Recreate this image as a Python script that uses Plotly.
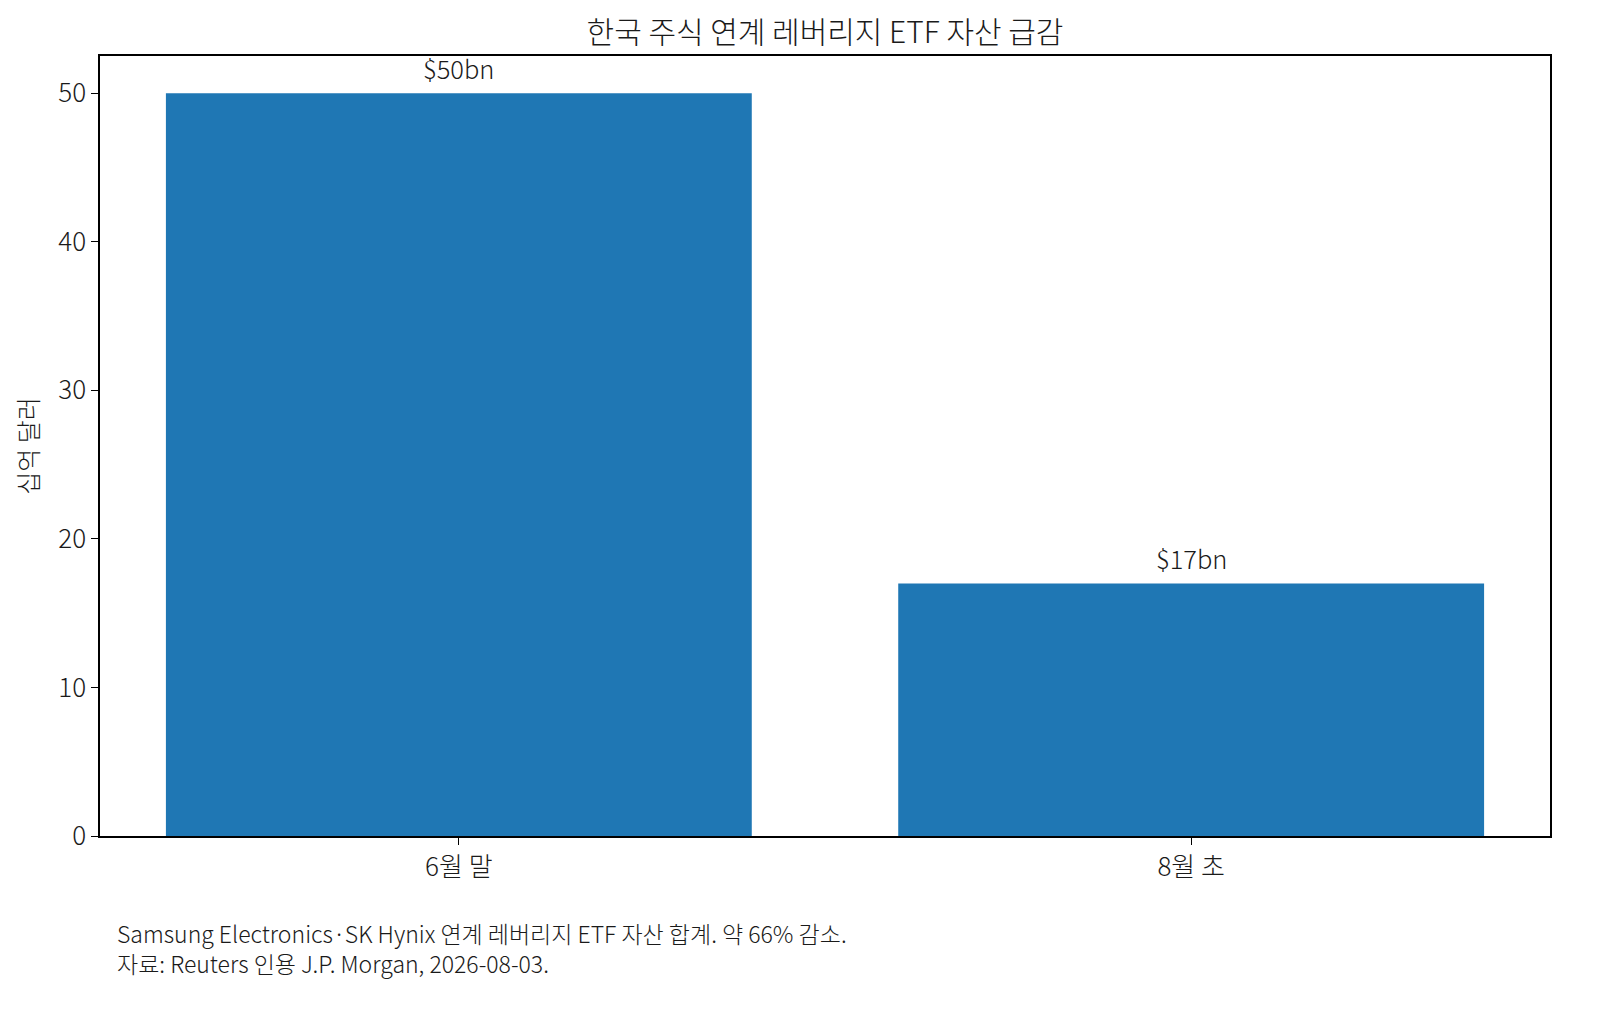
import plotly.graph_objects as go

# data
periods = ["6월 말", "8월 초"]
assets_bn = [50, 17]
bar_labels = ["$50bn", "$17bn"]

title_text = "한국 주식 연계 레버리지 ETF 자산 급감"
y_title = "십억 달러"
note_lines = [
    "Samsung Electronics·SK Hynix 연계 레버리지 ETF 자산 합계. 약 66% 감소.",
    "자료: Reuters 인용 J.P. Morgan, 2026-08-03.",
]

font_family = "Noto Sans CJK KR, Noto Sans, sans-serif"
ink = "#1a1a1a"

fig = go.Figure()
fig.add_trace(go.Bar(
    x=[0, 1],
    y=assets_bn,
    width=0.8,
    marker=dict(color="#1f77b4", line=dict(width=0)),
    hoverinfo="skip",
))

# value labels above the bars
for i, (v, lab) in enumerate(zip(assets_bn, bar_labels)):
    fig.add_annotation(x=i, y=v, text=lab, showarrow=False,
                       yanchor="middle", yshift=26,
                       font=dict(size=25.5, color=ink))

# footnote
fig.add_annotation(xref="paper", yref="paper", x=0.0103, y=-0.1442,
                   xanchor="left", yanchor="middle", align="left",
                   text="<br>".join(note_lines), showarrow=False,
                   font=dict(size=23, color=ink))

# figure is 16px smaller than the window to leave room for the page margin
fig.update_layout(
    width=1584, height=996,
    margin=dict(l=92, r=42, t=48, b=168),
    paper_bgcolor="white", plot_bgcolor="white",
    font=dict(family=font_family, size=25, color=ink, weight=300),
    showlegend=False,
    title=dict(text=title_text, x=0.5, xanchor="center", xref="paper",
               y=1 - 24 / 996, yanchor="middle",
               font=dict(size=30, color=ink, weight=300)),
)
fig.update_xaxes(
    range=[-0.49, 1.49], tickvals=[0, 1], ticktext=periods,
    showline=True, linecolor="black", linewidth=1.5, mirror=True,
    ticks="outside", ticklen=7, tickwidth=1.2, tickcolor="black",
    showgrid=False, zeroline=False, tickfont=dict(size=26, weight=300),
)
fig.update_yaxes(
    range=[0, 52.5], tickvals=[0, 10, 20, 30, 40, 50],
    title=dict(text=y_title, font=dict(size=25, weight=300), standoff=12),
    showline=True, linecolor="black", linewidth=1.5, mirror=True,
    ticks="outside", ticklen=7, tickwidth=1.2, tickcolor="black",
    showgrid=False, zeroline=False, tickfont=dict(size=26, weight=300),
)

fig.write_html("out.html")
